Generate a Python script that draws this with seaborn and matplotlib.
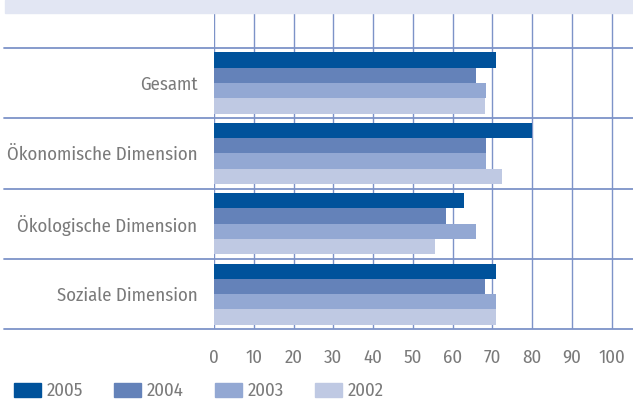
import matplotlib
matplotlib.use("Agg")
import matplotlib.pyplot as plt
import pandas as pd
import seaborn as sns
from matplotlib.patches import Rectangle

categories = ["Gesamt", "Ökonomische Dimension", "Ökologische Dimension", "Soziale Dimension"]
years = ["2005", "2004", "2003", "2002"]
values_2005 = [71, 80, 63, 71]
values_2004 = [66, 68.4, 58.4, 68.2]
values_2003 = [68.5, 68.4, 66, 71]
values_2002 = [68.2, 72.5, 55.6, 71]
x_ticks = [0, 10, 20, 30, 40, 50, 60, 70, 80, 90, 100]

colors = ["#00529b", "#6482b9", "#93a8d3", "#bfc9e3"]
grid_color = "#7d93c8"
text_color = "#7a7a7a"

rows = []
for year, vals in zip(years, [values_2005, values_2004, values_2003, values_2002]):
    for cat, v in zip(categories, vals):
        rows.append({"Kategorie": cat, "Jahr": year, "Wert": v})
df = pd.DataFrame(rows)

sns.set_style("white")
plt.rcParams["font.family"] = ["Fira Sans Condensed", "DejaVu Sans"]
plt.rcParams["font.weight"] = "normal"

fig = plt.figure(figsize=(6.33, 4), dpi=100)
ax = fig.add_axes([214 / 633, 1 - 329.3 / 400, 1 - 214 / 633, (329.3 - 12.7) / 400])

sns.barplot(
    data=df, y="Kategorie", x="Wert", hue="Jahr", order=categories, hue_order=years,
    palette=colors, orient="h", width=0.87, gap=0, saturation=1, legend=False, ax=ax,
    zorder=3, linewidth=0,
)

ax.set_xlim(0, 105.4)
ax.set_ylim(3.5, -1.0)
ax.set_xticks(x_ticks)
for xv in x_ticks:
    ax.axvline(xv, color=grid_color, lw=1.0, zorder=1)
for yv in [-0.5, 0.5, 1.5, 2.5, 3.5]:
    ax.axhline(yv, xmin=-0.5, xmax=1, color=grid_color, lw=1.3, zorder=1, clip_on=False)

for s in ax.spines.values():
    s.set_visible(False)
ax.set_xlabel("")
ax.set_ylabel("")
ax.tick_params(axis="x", length=0, pad=14, labelsize=13.5, labelcolor=text_color)
ax.tick_params(axis="y", length=0, pad=12, labelsize=13.5, labelcolor=text_color)

# light band at the top
fig.patches.append(Rectangle((5 / 633, 1 - 12.7 / 400), 1, 12.7 / 400,
                             transform=fig.transFigure, color="#e2e6f3", zorder=0))

handles = [Rectangle((0, 0), 1, 1, color=c) for c in colors]
fig.legend(handles, years, loc="lower left", bbox_to_anchor=(14 / 633, 0.0), ncol=4,
           frameon=False, fontsize=13.5, labelcolor=text_color, handlelength=1.45,
           handleheight=0.75, handletextpad=0.3, columnspacing=1.65,
           borderpad=0, borderaxespad=0)

fig.savefig("out.png", dpi=100)
